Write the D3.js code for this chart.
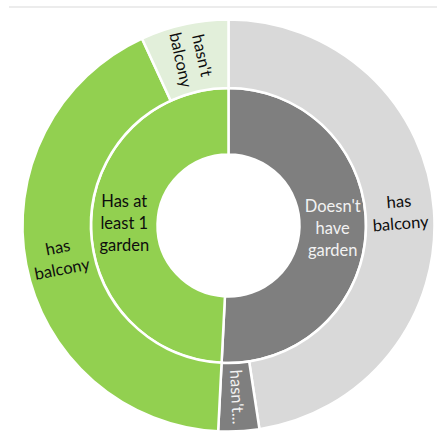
<!DOCTYPE html>
<html><head><meta charset="utf-8">
<script src="https://cdn.jsdelivr.net/npm/d3@7"></script>
<style>html,body{margin:0;padding:0;background:#fff;}svg{display:block;}</style>
</head><body>
<svg id="c" width="437" height="441"></svg>
<script>
// Inner ring: garden categories
const gardenCategories = ["Doesn't have garden", "Has at least 1 garden"];
const gardenLabelLines = [["Doesn't", "have", "garden"], ["Has at", "least 1", "garden"]];
// Outer ring: balcony split within each garden category (clockwise from top)
const balconyParents = [0, 0, 1, 1];
const balconyCategories = ["has balcony", "hasn't balcony", "has balcony", "hasn't balcony"];
const balconyLabelLines = [["has", "balcony"], ["hasn't..."], ["has", "balcony"], ["hasn't", "balcony"]];
const balconyValues = [476, 32, 423, 69];

const innerColors = ["#7f7f7f", "#92d050"];
const outerColors = ["#d9d9d9", "#7f7f7f", "#92d050", "#e2efda"];
const innerTextColors = ["#f2f2f2", "#0d0d0d"];
const outerTextColors = ["#0d0d0d", "#f2f2f2", "#0d0d0d", "#0d0d0d"];

const gardenValues = gardenCategories.map((c, i) =>
  d3.sum(balconyValues.filter((v, j) => balconyParents[j] === i)));

const svg = d3.select("#c");
svg.append("line").attr("x1", 9).attr("x2", 437).attr("y1", 7).attr("y2", 7)
  .attr("stroke", "#d9d9d9").attr("stroke-width", 1);

const cx = 228.5, cy = 225.5;
const r0 = 71, r1 = 137.5, r2 = 206;
const g = svg.append("g").attr("transform", `translate(${cx},${cy})`);

const pie = d3.pie().sort(null).value(d => d);
const innerArcs = pie(gardenValues);
const outerArcs = pie(balconyValues);
const innerArc = d3.arc().innerRadius(r0).outerRadius(r1);
const outerArc = d3.arc().innerRadius(r1).outerRadius(r2);

g.selectAll("path.in").data(innerArcs).join("path").attr("class", "in")
  .attr("d", innerArc).attr("fill", (d, i) => innerColors[i])
  .attr("stroke", "#fff").attr("stroke-width", 2.5);
g.selectAll("path.out").data(outerArcs).join("path").attr("class", "out")
  .attr("d", outerArc).attr("fill", (d, i) => outerColors[i])
  .attr("stroke", "#fff").attr("stroke-width", 2.5);

const fs = 16.5, lh = 22;
function label(d, lines, arcGen, color, mode) {
  const [x, y] = arcGen.centroid(d);
  const mid = (d.startAngle + d.endAngle) / 2 * 180 / Math.PI;
  let rot = 0;
  if (mode === "tangent") rot = mid < 180 ? mid - 90 : mid - 270;
  if (mode === "radial") rot = mid < 180 ? mid - 90 : mid + 90;
  const t = g.append("text").attr("transform", `translate(${x},${y}) rotate(${rot})`)
    .attr("text-anchor", "middle").attr("fill", color)
    .attr("font-family", "Lato, 'Open Sans', sans-serif").attr("font-size", fs);
  const n = lines.length;
  lines.forEach((s, k) => {
    t.append("tspan").attr("x", 0).attr("y", (k - (n - 1) / 2) * lh).attr("dy", "0.35em").text(s);
  });
}
innerArcs.forEach((d, i) => label(d, gardenLabelLines[i], innerArc, innerTextColors[i], "none"));
outerArcs.forEach((d, i) => {
  const small = (d.endAngle - d.startAngle) < 0.5;
  label(d, balconyLabelLines[i], outerArc, outerTextColors[i], small ? "radial" : "tangent");
});
</script>
</body></html>
